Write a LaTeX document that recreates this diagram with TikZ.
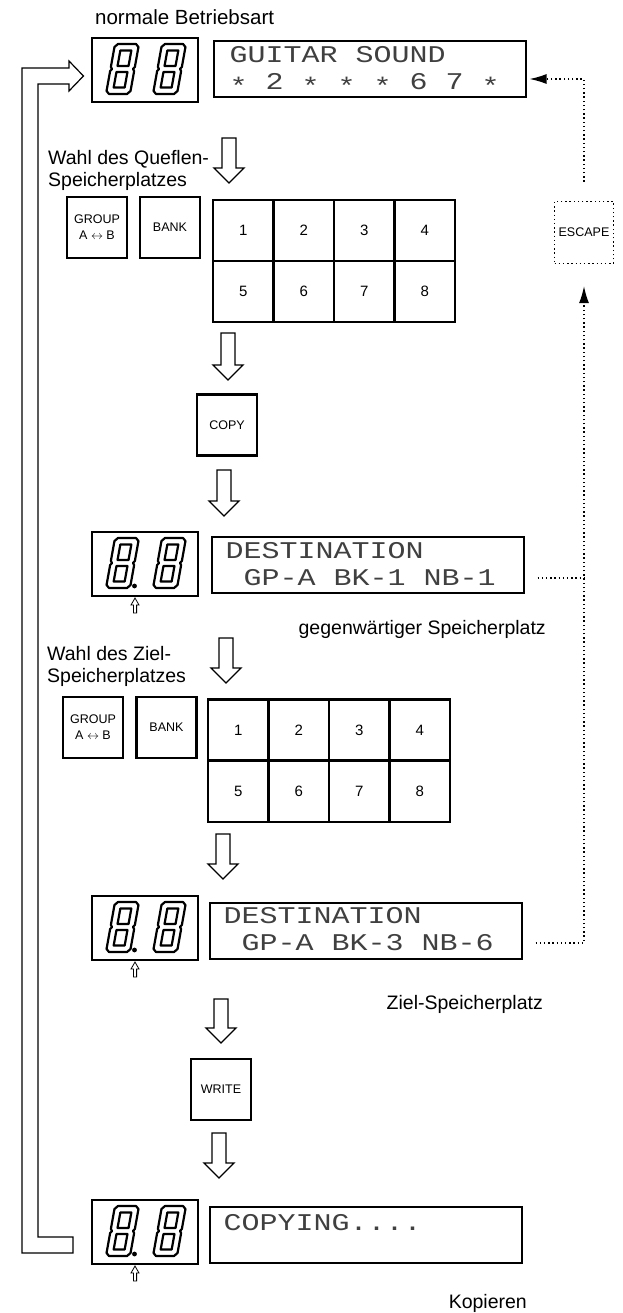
\documentclass[tikz,border=0pt]{standalone}
\usepackage{fontspec}
\setmainfont{Liberation Sans}
\newfontfamily\lcdfont{Liberation Mono}[FakeStretch=1.25]
\usetikzlibrary{arrows.meta,calc}

\newcommand\segeight[2]{%
  \begin{scope}[shift={(#1,#2)}, xslant=0.18, line width=2.2pt, line join=round]
    \draw (3,0) -- (21,0) -- (24,-3) -- (24,-23) -- (22.5,-25) -- (24,-27) -- (24,-47) -- (21,-50) -- (3,-50) -- (0,-47) -- (0,-27) -- (1.5,-25) -- (0,-23) -- (0,-3) -- cycle;
    \draw (6.5,-6.5) rectangle (17.5,-22);
    \draw (6.5,-28) rectangle (17.5,-43.5);
  \end{scope}}
% #1 = left of box, #2 = bottom of box
\newcommand\segpair[2]{\segeight{#1+14}{#2-8}\segeight{#1+61}{#2-8}}
\newcommand\segpoint[2]{\fill (#1+42.5,#2-10) circle (2.4pt);
  \draw[line width=0.8pt] (#1+41.4,#2+17) -- (#1+41.4,#2+9) -- (#1+39,#2+9) -- (#1+43,#2+2) -- (#1+47,#2+9) -- (#1+44.6,#2+9) -- (#1+44.6,#2+17) -- cycle;}
\newcommand\blockdn[3]{%
  \draw[blockarrow] (#1-7,#2) -- (#1+7,#2) -- (#1+7,#3-15) -- (#1+15,#3-15) -- (#1,#3) -- (#1-15,#3-15) -- (#1-7,#3-15) -- cycle;}
\newcommand\lcdast{\smash{\raisebox{-0.22em}{*}}}
\newcommand\lsp{\hspace*{18pt}}

\tikzset{
  lbl/.style={font=\fontsize{19.5}{22}\selectfont, inner sep=0pt},
  btn/.style={draw, line width=2.4pt, minimum width=60pt, minimum height=61pt, inner sep=0pt, font=\fontsize{12.5}{16}\selectfont, align=center},
  cell/.style={draw, line width=2.4pt, minimum width=60.5pt, minimum height=61pt, inner sep=0pt, font=\fontsize{15}{18}\selectfont},
  segbox/.style={draw, line width=1.1pt, minimum width=106pt, minimum height=64pt, inner sep=0pt},
  lcd/.style={draw, line width=1.1pt, minimum width=312pt, minimum height=56pt, inner sep=0pt},
  lcdtxt/.style={font=\lcdfont\fontsize{24}{27}\selectfont, text=black!75, inner sep=0pt, anchor=base west},
  blockarrow/.style={draw, line width=1.3pt, fill=white, line join=miter},
  dotline/.style={line width=1.3pt, dash pattern=on 1.4pt off 2.8pt},
  escbox/.style={draw, dotline, minimum width=59pt, minimum height=62pt, inner sep=0pt, font=\fontsize{12.5}{15}\selectfont},
  dtip/.style={-{Latex[length=17pt,width=10pt]}},
}

\begin{document}
\begin{tikzpicture}[x=1pt,y=-1pt]
\useasboundingbox (0,0) rectangle (623,1313);

% ---------- top: normal mode ----------
\node[lbl, anchor=base west, font=\fontsize{20.5}{22}\selectfont] (title) at (95,25) {normale Betriebsart};
\node[segbox] (sA) at (145,70) {};
\segpair{92}{102}
\node[lcd] (lA) at (370,69) {};
\node[lcdtxt] (lA1) at ($(lA.north west)+(16,22)$) {GUITAR\lsp SOUND};
\node[lcdtxt] (lA2) at ($(lA.north west)+(16,49)$) {\lcdast\lsp 2\lsp\lcdast\lsp\lcdast\lsp\lcdast\lsp 6\lsp 7\lsp\lcdast};

% ---------- source selection ----------
\node[lbl, anchor=base west] (q1) at (48,165) {Wahl des Queflen-};
\node[lbl, anchor=base west] (q2) at (48,187) {Speicherplatzes};
\blockdn{229}{138}{183}
\node[btn] (grpA) at (97,227.5) {GROUP\\A $\leftrightarrow$ B};
\node[btn] (bankA) at (170,227.5) {BANK};
\foreach \n [count=\i from 0] in {1,2,3,4} {
  \node[cell] (g\n) at (243.25+60.5*\i,230.5) {\n};
}
\foreach \n [count=\i from 0] in {5,6,7,8} {
  \node[cell] (g\n) at (243.25+60.5*\i,291.5) {\n};
}
\blockdn{228}{333}{380}
\node[btn] (copy) at (227,425) {COPY};
\blockdn{224}{470}{516}

% ---------- destination, current ----------
\node[segbox] (sB) at (145,564) {};
\segpair{92}{596}
\segpoint{92}{596}
\node[lcd] (lB) at (368,565) {};
\node[lcdtxt] (lB1) at ($(lB.north west)+(14,22)$) {DESTINATION};
\node[lcdtxt] (lB2) at ($(lB.north west)+(14,49)$) {\lsp GP-A\lsp BK-1\lsp NB-1};
\node[lbl, anchor=base east] (cur) at (546,634) {gegenwärtiger Speicherplatz};

% ---------- destination selection ----------
\node[lbl, anchor=base west] (z1) at (47,660) {Wahl des Ziel-};
\node[lbl, anchor=base west] (z2) at (47,682) {Speicherplatzes};
\blockdn{226}{638}{683}
\node[btn] (grpB) at (93,727.5) {GROUP\\A $\leftrightarrow$ B};
\node[btn] (bankB) at (166.5,727.5) {BANK};
\foreach \n [count=\i from 0] in {1,2,3,4} {
  \node[cell] (h\n) at (238.25+60.5*\i,730) {\n};
}
\foreach \n [count=\i from 0] in {5,6,7,8} {
  \node[cell] (h\n) at (238.25+60.5*\i,791.5) {\n};
}
\blockdn{223}{834}{879}

% ---------- destination chosen ----------
\node[segbox] (sC) at (145,928) {};
\segpair{92}{960}
\segpoint{92}{960}
\node[lcd] (lC) at (366,931) {};
\node[lcdtxt] (lC1) at ($(lC.north west)+(14,21)$) {DESTINATION};
\node[lcdtxt] (lC2) at ($(lC.north west)+(14,48)$) {\lsp GP-A\lsp BK-3\lsp NB-6};
\node[lbl, anchor=base east] (dst) at (543,1009) {Ziel-Speicherplatz};

\blockdn{221}{999}{1043}
\node[btn] (write) at (221,1089.5) {WRITE};
\blockdn{219}{1133}{1178}

% ---------- copying ----------
\node[segbox] (sD) at (145,1232) {};
\segpair{92}{1264}
\segpoint{92}{1264}
\node[lcd] (lD) at (366,1235) {};
\node[lcdtxt] (lD1) at ($(lD.north west)+(14,24)$) {COPYING....};
\node[lbl, anchor=base east] (kop) at (527,1308) {Kopieren};

% ---------- return arrow ----------
\draw[line width=1.2pt, line join=miter]
  (69,68) -- (22,68) -- (22,1253) -- (73,1253) -- (73,1237) -- (38,1237) -- (38,84) -- (69,84)
  -- (69,91) -- ($(sA.west)+(-8,6)$) -- (69,61) -- cycle;

% ---------- escape ----------
\node[escbox] (esc) at (584,232.5) {ESCAPE};
\draw[dotline, dtip] ($(esc.north)+(0,-19)$) |- ($(lA.east)+(3,10)$);
\coordinate (dB) at ($(lB.east)+(13,13)$);
\coordinate (dC) at ($(lC.east)+(13,12)$);
\draw[dotline] (dB) -- (dB -| esc.south);
\draw[dotline, dtip] (dC) -| ($(esc.south)+(0,22)$);
\end{tikzpicture}
\end{document}
